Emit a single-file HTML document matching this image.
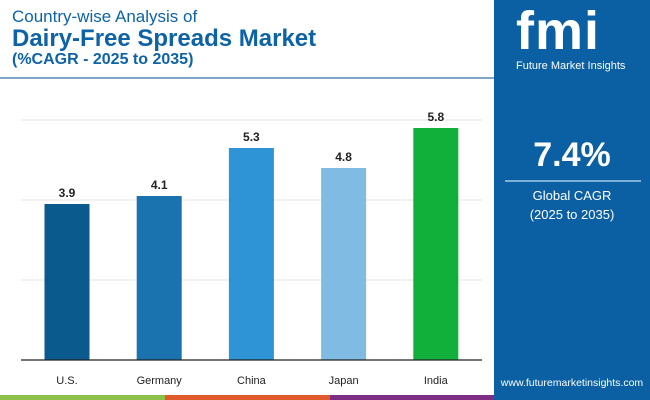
<!DOCTYPE html>
<html><head><meta charset="utf-8"><style>
body{margin:0;width:650px;height:400px;overflow:hidden;font-family:"Liberation Sans",sans-serif;background:#fff;position:relative}
.abs{position:absolute}
</style></head><body>
<div class="abs" style="left:12px;top:7px;color:#0d63a5">
<div style="font-size:17px;line-height:19px">Country-wise Analysis of</div>
<div style="font-size:24px;font-weight:bold;line-height:25px">Dairy-Free Spreads Market</div>
<div style="font-size:16px;font-weight:bold;line-height:18px">(%CAGR - 2025 to 2035)</div>
</div>
<div class="abs" style="left:0;top:77px;width:494px;height:2px;background:#7fa7c4"></div>
<svg class="abs" style="left:0;top:0" width="494" height="400" id="chart"></svg>
<div class="abs" style="left:494px;top:0;width:156px;height:400px;background:#0b5fa3">
<div style="position:absolute;left:22px;top:0px;color:#fff;font-size:54px;font-weight:bold;letter-spacing:1px">fmi</div>
<div style="position:absolute;left:22px;top:60px;color:#fff;font-size:11px">Future Market Insights</div>
<div style="position:absolute;left:0;width:156px;text-align:center;top:136px;color:#fff;font-size:34px;font-weight:bold">7.4%</div>
<div style="position:absolute;left:11px;top:180px;width:136px;height:2px;background:#7fb0dc"></div>
<div style="position:absolute;left:0;width:156px;text-align:center;top:186px;color:#fff;font-size:13px;line-height:19px">Global CAGR<br>(2025 to 2035)</div>
<div style="position:absolute;left:0;width:156px;text-align:center;top:377px;color:#fff;font-size:10.5px">www.futuremarketinsights.com</div>
</div>
<div class="abs" style="left:0;top:395px;width:165px;height:5px;background:#8cc04a"></div>
<div class="abs" style="left:165px;top:395px;width:165px;height:5px;background:#e15a2b"></div>
<div class="abs" style="left:330px;top:395px;width:164px;height:5px;background:#7e2d84"></div>
<script>
const categories=["U.S.","Germany","China","Japan","India"];
const values=[3.9,4.1,5.3,4.8,5.8];
const colors=["#0b5a8e","#1a73ae","#2e94d6","#7fbbe3","#10b03a"];
const gridTicks=[0,2,4,6];
const svg=document.getElementById('chart');
const NS="http://www.w3.org/2000/svg";
const y=v=>360-v*40;
const x=i=>67+i*92.2;
function mk(t,a){const e=document.createElementNS(NS,t);for(const k in a)e.setAttribute(k,a[k]);svg.appendChild(e);return e;}
gridTicks.forEach(t=>{if(t===0)return;const l=mk('line',{x1:21,x2:482,y1:y(t),y2:y(t),stroke:'#e3e3e3','stroke-width':1});

});
categories.forEach((c,i)=>{
const r=mk('rect',{x:x(i)-22.5,y:y(values[i]),width:45,height:values[i]*40,fill:colors[i]});


const v=mk('text',{x:x(i),y:y(values[i])-7,'text-anchor':'middle','font-size':12,'font-weight':'bold',fill:'#222'});v.textContent=values[i].toFixed(1);


const t=mk('text',{x:x(i),y:384,'text-anchor':'middle','font-size':11,fill:'#222'});t.textContent=c;


});
const ax=mk('line',{x1:21,x2:482,y1:360,y2:360,stroke:'#222','stroke-width':1.2});


</script>
</body></html>
